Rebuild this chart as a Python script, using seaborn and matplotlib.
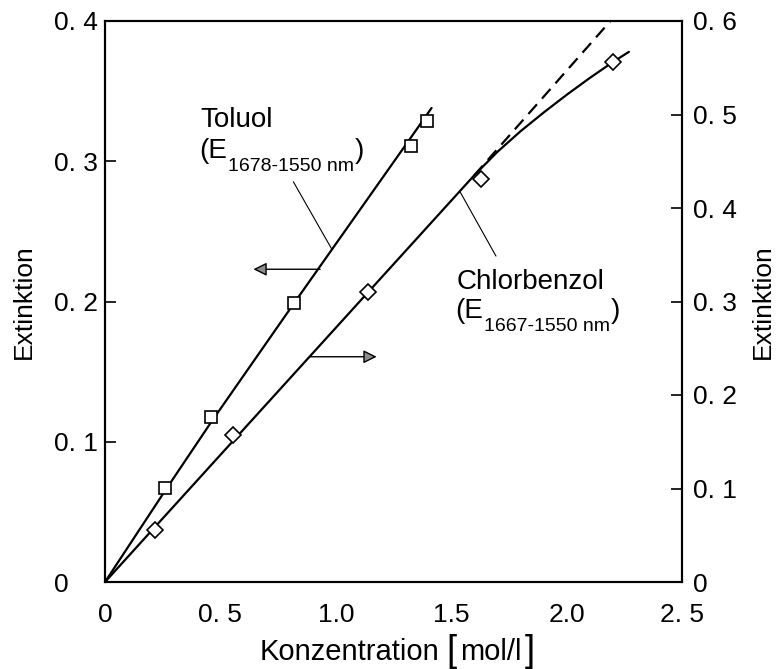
import matplotlib
matplotlib.use("Agg")
import matplotlib.pyplot as plt
import seaborn as sns
import pandas as pd
from matplotlib import font_manager

# --- measured data -------------------------------------------------------
# Toluol, absorbance E(1678-1550 nm), left axis
tol_conc = [0.26, 0.46, 0.82, 1.326, 1.394]
tol_ext = [0.067, 0.118, 0.199, 0.311, 0.329]
# fitted calibration curve for Toluol
tol_fit_conc = [0.0, 0.26, 0.46, 0.82, 1.33, 1.415]
tol_fit_ext = [0.0, 0.065, 0.114, 0.199, 0.318, 0.338]

# Chlorbenzol, absorbance E(1667-1550 nm), right axis
chl_conc = [0.217, 0.556, 1.141, 1.628, 2.203]
chl_ext = [0.0556, 0.157, 0.310, 0.431, 0.556]
# calibration curve for Chlorbenzol (bends at high concentration)
chl_fit_conc = [0.0, 1.6, 1.7, 1.8, 1.9, 2.0, 2.1, 2.2, 2.27]
chl_fit_ext = [0.0, 0.435, 0.460, 0.482, 0.502, 0.521, 0.539, 0.556, 0.567]
# linear extrapolation of the initial slope
chl_lin_conc = [1.6, 2.19]
chl_lin_ext = [0.435, 0.600]

x_ticks = [0.0, 0.5, 1.0, 1.5, 2.0, 2.5]
x_labels = ["0", "0. 5", "1.0", "1.5", "2.0", "2. 5"]
yl_ticks = [0.0, 0.1, 0.2, 0.3, 0.4]
yl_labels = ["0", "0. 1", "0. 2", "0. 3", "0. 4"]
yr_ticks = [0.0, 0.1, 0.2, 0.3, 0.4, 0.5, 0.6]
yr_labels = ["0", "0. 1", "0. 2", "0. 3", "0. 4", "0. 5", "0. 6"]

# --- style ---------------------------------------------------------------
sns.set_theme(style="white")
names = {f.name for f in font_manager.fontManager.ttflist}
base = "Liberation Sans Narrow" if "Liberation Sans Narrow" in names else "Liberation Sans"
plt.rcParams["font.family"] = [base, "DejaVu Sans"]
for key in ("text.color", "axes.labelcolor", "xtick.color", "ytick.color",
            "axes.edgecolor"):
    plt.rcParams[key] = "black"

fig = plt.figure(figsize=(7.77, 6.69), dpi=100)
ax = fig.add_axes([105 / 777, 1 - 582 / 669, 577 / 777, 561 / 669])
ax2 = ax.twinx()

LW = 1.6
tol_fit = pd.DataFrame({"c": tol_fit_conc, "e": tol_fit_ext})
tol_pts = pd.DataFrame({"c": tol_conc, "e": tol_ext})
chl_fit = pd.DataFrame({"c": chl_fit_conc, "e": chl_fit_ext})
chl_lin = pd.DataFrame({"c": chl_lin_conc, "e": chl_lin_ext})
chl_pts = pd.DataFrame({"c": chl_conc, "e": chl_ext})

sns.lineplot(data=tol_fit, x="c", y="e", ax=ax, color="black", lw=LW, sort=False)
sns.lineplot(data=chl_fit, x="c", y="e", ax=ax2, color="black", lw=LW, sort=False)
sns.lineplot(data=chl_lin, x="c", y="e", ax=ax2, color="black", lw=LW, sort=False)
ax2.lines[-1].set_dashes([5.8, 3.4])
ax.plot(tol_pts["c"], tol_pts["e"], ls="none", marker="s", ms=8.3,
        mfc="white", mec="black", mew=1.2, zorder=5)
ax2.plot(chl_pts["c"], chl_pts["e"], ls="none", marker="D", ms=8.4,
         mfc="white", mec="black", mew=1.2, zorder=5)

ax.set_xlim(0, 2.5)
ax.set_ylim(0, 0.4)
ax2.set_ylim(0, 0.6)
ax.set_xticks(x_ticks, x_labels)
ax.set_yticks(yl_ticks, yl_labels)
ax2.set_yticks(yr_ticks, yr_labels)

TS = 19
ax.tick_params(axis="x", direction="in", length=8, width=1.2, pad=15, labelsize=TS,
               top=False, colors="black")
ax.tick_params(axis="y", direction="in", length=8, width=1.2, pad=37, labelsize=TS,
               left=True, right=False, colors="black")
for t in ax.get_yticklabels():
    t.set_horizontalalignment("left")
ax2.tick_params(axis="y", direction="in", length=8, width=1.2, pad=8, labelsize=TS,
                right=True, left=False, colors="black")
for a in (ax, ax2):
    for s in a.spines.values():
        s.set_linewidth(1.5)
        s.set_color("black")
ax.grid(False)
ax2.grid(False)
ax.set_xlabel("")
ax.set_ylabel("Extinktion", fontsize=19, labelpad=13, color="black")
ax2.set_ylabel("Extinktion", fontsize=19, labelpad=10, color="black")

# x-axis title with tall square brackets around the unit
XL, BR = 21, 26
t = fig.text(260 / 777, 9 / 669, "Konzentration", fontsize=XL, va="baseline",
             ha="left", color="black")
t = ax.annotate("[", xy=(1, 8), xycoords=(t, "figure pixels"), xytext=(7, 0),
                textcoords="offset pixels", fontsize=BR, va="baseline", ha="left",
                color="black", annotation_clip=False)
t = ax.annotate("mol/l", xy=(1, 9), xycoords=(t, "figure pixels"), xytext=(3, 0),
                textcoords="offset pixels", fontsize=XL, va="baseline", ha="left",
                color="black", annotation_clip=False)
ax.annotate("]", xy=(1, 8), xycoords=(t, "figure pixels"), xytext=(3, 0),
            textcoords="offset pixels", fontsize=BR, va="baseline", ha="left",
            color="black", annotation_clip=False)


def labelled_band(x, y_name, y_sub, name, band):
    """Compound name with E subscript band label, in left-axis data units."""
    AS, SS = 20, 14
    ax.text(x, y_name, name, fontsize=AS, ha="left", va="baseline", color="black")
    p = ax.text(x - 0.006, y_sub, "(E", fontsize=AS, ha="left", va="baseline",
                color="black")
    s = ax.annotate(band, xy=(1, y_sub), xycoords=(p, "data"), xytext=(1, -13),
                    textcoords="offset pixels", fontsize=SS, ha="left",
                    va="baseline", color="black")
    ax.annotate(")", xy=(1, y_sub), xycoords=(s, "data"), xytext=(1, 0),
                textcoords="offset pixels", fontsize=AS, ha="left", va="baseline",
                color="black")


labelled_band(0.414, 0.3244, 0.3023, "Toluol", "1678-1550 nm")
ax.plot([0.816, 0.982], [0.2854, 0.2375], color="black", lw=0.8)
ax.annotate("", xy=(0.643, 0.223), xytext=(0.932, 0.223),
            arrowprops=dict(arrowstyle="-|>", lw=1.0, color="black",
                            fc="0.55", mutation_scale=20, shrinkA=0, shrinkB=0))

labelled_band(1.524, 0.2087, 0.188, "Chlorbenzol", "1667-1550 nm")
ax.plot([1.694, 1.538], [0.2324, 0.2783], color="black", lw=0.8)
ax.annotate("", xy=(1.177, 0.1606), xytext=(0.888, 0.1606),
            arrowprops=dict(arrowstyle="-|>", lw=1.0, color="black",
                            fc="0.55", mutation_scale=20, shrinkA=0, shrinkB=0))

fig.savefig("out.png", dpi=100)
